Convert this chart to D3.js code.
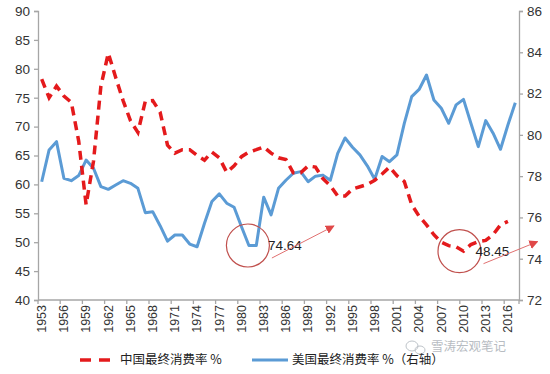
<!DOCTYPE html>
<html><head><meta charset="utf-8">
<script src="https://cdn.jsdelivr.net/npm/d3@7"></script>
<style>
html,body{margin:0;padding:0;background:#fff;}
svg{display:block;font-family:"Liberation Sans",Arial,sans-serif;}
</style></head>
<body><svg id="c" width="550" height="374"></svg>
<script>
const years = d3.range(1953, 2018);
const chinaYears = d3.range(1953, 2017);
const chinaRate = [78.2,75.0,77.0,75.3,74.2,67.5,56.5,64.0,77.0,82.7,
  78.5,74.5,71.0,69.0,74.4,74.5,72.5,66.8,65.4,66.0,
  66.0,65.0,64.2,65.6,64.6,62.1,63.2,64.8,65.6,66.0,
  66.5,65.4,64.6,64.3,62.0,62.0,63.2,63.0,61.0,59.8,
  58.0,58.0,59.2,59.6,60.0,60.7,61.8,63.0,61.5,60.5,
  56.5,54.5,53.0,51.3,50.0,49.4,49.2,48.45,49.6,50.1,
  50.3,51.3,53.0,53.6];
const usYears = d3.range(1953, 2018);
const usRate = [77.73,79.27,79.67,77.9,77.78,78.03,78.78,78.38,77.49,77.36,
  77.57,77.78,77.65,77.41,76.23,76.28,75.6,74.85,75.15,75.15,
  74.71,74.58,75.72,76.77,77.14,76.69,76.49,75.55,74.64,74.64,
  76.98,76.12,77.41,77.8,78.14,78.22,77.73,78.0,78.05,77.8,
  79.1,79.85,79.4,79.03,78.5,77.85,78.95,78.7,79.03,80.56,
  81.85,82.2,82.9,81.69,81.29,80.56,81.45,81.72,80.56,79.43,
  80.69,80.08,79.3,80.48,81.56];
const leftTicks = [40,45,50,55,60,65,70,75,80,85,90];
const rightTicks = [72,74,76,78,80,82,84,86];
const xTickYears = d3.range(1953, 2017, 3);
const legendLabels = ["中国最终消费率 %", "美国最终消费率 %（右轴）"];
const notes = [{year:1981, value:74.64, label:"74.64"},{year:2010, value:48.45, label:"48.45"}];
const watermark = "雪涛宏观笔记";

const svg = d3.select("#c");
const L = 38, R = 519, T = 11, B = 300;
const x = d3.scaleBand().domain(years).range([L, R]).padding(0);
const bw = x.bandwidth();
const cx = yr => x(yr) + bw/2;
const yL = d3.scaleLinear().domain([40,90]).range([B,T]);
const yR = d3.scaleLinear().domain([72,86]).range([B,T]);
const axisCol = "#a6a6a6", txtCol = "#333";

// left axis
const gL = svg.append("g").attr("transform",`translate(${L},0)`)
  .call(d3.axisLeft(yL).tickValues(leftTicks).tickSize(4).tickPadding(4));
// right axis
const gR = svg.append("g").attr("transform",`translate(${R},0)`)
  .call(d3.axisRight(yR).tickValues(rightTicks).tickSize(4).tickPadding(4));
[gL,gR].forEach(g=>{
  g.select(".domain").attr("stroke",axisCol).attr("stroke-width",1.3);
  g.selectAll(".tick line").attr("stroke",axisCol).attr("stroke-width",1.3);
  g.selectAll(".tick text").attr("fill",txtCol).attr("font-size",13.5)
    .attr("font-family","'Liberation Sans',Arial,sans-serif");
});
// bottom axis
const gB = svg.append("g");
gB.append("line").attr("x1",L).attr("x2",R).attr("y1",B).attr("y2",B)
  .attr("stroke",axisCol).attr("stroke-width",1.3);
gB.selectAll("line.t").data(xTickYears.concat([null])).join("line").attr("class","t")
  .attr("x1",d=>d===null?R:x(d)).attr("x2",d=>d===null?R:x(d))
  .attr("y1",B).attr("y2",B+4).attr("stroke",axisCol).attr("stroke-width",1.3);
gB.selectAll("text").data(xTickYears).join("text")
  .attr("transform",d=>`translate(${cx(d)},${B+5}) rotate(-90)`)
  .attr("text-anchor","end").attr("dy","0.35em")
  .attr("font-size",12.5).attr("fill",txtCol).text(d=>d);

// lines
const lineC = d3.line().x((d,i)=>cx(chinaYears[i])).y(d=>yL(d));
const lineU = d3.line().x((d,i)=>cx(usYears[i])).y(d=>yR(d));
svg.append("path").datum(usRate).attr("d",lineU).attr("fill","none")
  .attr("stroke","#5b9bd5").attr("stroke-width",3).attr("stroke-linejoin","round");
svg.append("path").datum(chinaRate).attr("d",lineC).attr("fill","none")
  .attr("stroke","#e41a1c").attr("stroke-width",3.5).attr("stroke-dasharray","9,6");

// annotations
svg.append("defs").append("marker").attr("id","ah").attr("viewBox","0 0 10 10")
  .attr("refX",9).attr("refY",5).attr("markerWidth",9).attr("markerHeight",9)
  .attr("markerUnits","userSpaceOnUse").attr("orient","auto")
  .append("path").attr("d","M0,0 L10,5 L0,10 z").attr("fill","#e04848");
const n1 = notes[0], n2 = notes[1];
const c1x = cx(n1.year)-1, c1y = yR(n1.value);
const c2x = cx(n2.year)-4, c2y = yL(n2.value);
svg.append("circle").attr("cx",c1x).attr("cy",c1y).attr("r",21.5)
  .attr("fill","none").attr("stroke","#c0504d").attr("stroke-width",1.2);
svg.append("circle").attr("cx",c2x).attr("cy",c2y).attr("r",21.5)
  .attr("fill","none").attr("stroke","#c0504d").attr("stroke-width",1.2);
svg.append("text").attr("x",c1x+20).attr("y",c1y).attr("dy","0.35em")
  .attr("font-size",13.5).attr("fill","#222").text(n1.label);
svg.append("text").attr("x",c2x+16).attr("y",c2y).attr("dy","0.35em")
  .attr("font-size",13.5).attr("fill","#222").text(n2.label);
svg.append("line").attr("x1",c1x+24).attr("y1",c1y+12.5).attr("x2",c1x+86).attr("y2",c1y-19.5)
  .attr("stroke","#e07070").attr("stroke-width",1).attr("marker-end","url(#ah)");
svg.append("line").attr("x1",c2x+24).attr("y1",c2y+12.5).attr("x2",c2x+78).attr("y2",c2y-9.5)
  .attr("stroke","#e07070").attr("stroke-width",1).attr("marker-end","url(#ah)");

// legend
const ly = 360;
const lg = svg.append("g");
lg.append("line").attr("x1",80).attr("x2",110).attr("y1",ly).attr("y2",ly)
  .attr("stroke","#e41a1c").attr("stroke-width",3.5).attr("stroke-dasharray","11,8");
lg.append("text").attr("x",120).attr("y",ly).attr("dy","0.35em").attr("font-size",12.5)
  .attr("font-family","'Noto Sans CJK SC',sans-serif").attr("fill","#222").text(legendLabels[0]);
lg.append("line").attr("x1",252).attr("x2",288).attr("y1",ly).attr("y2",ly)
  .attr("stroke","#5b9bd5").attr("stroke-width",3);
lg.append("text").attr("x",292).attr("y",ly).attr("dy","0.35em").attr("font-size",12.5)
  .attr("font-family","'Noto Sans CJK SC',sans-serif").attr("fill","#222").text(legendLabels[1]);

// watermark
const wm = svg.append("g").attr("opacity",0.55);
wm.append("ellipse").attr("cx",412).attr("cy",346).attr("rx",6).attr("ry",5)
  .attr("fill","none").attr("stroke","#8a949e").attr("stroke-width",1);
wm.append("ellipse").attr("cx",420).attr("cy",350).attr("rx",5).attr("ry",4)
  .attr("fill","none").attr("stroke","#8a949e").attr("stroke-width",1);
wm.append("text").attr("x",431).attr("y",347).attr("dy","0.35em").attr("font-size",12.5)
  .attr("font-family","'Noto Sans CJK SC',sans-serif").attr("fill","#7d8791").text(watermark);
</script></body></html>
